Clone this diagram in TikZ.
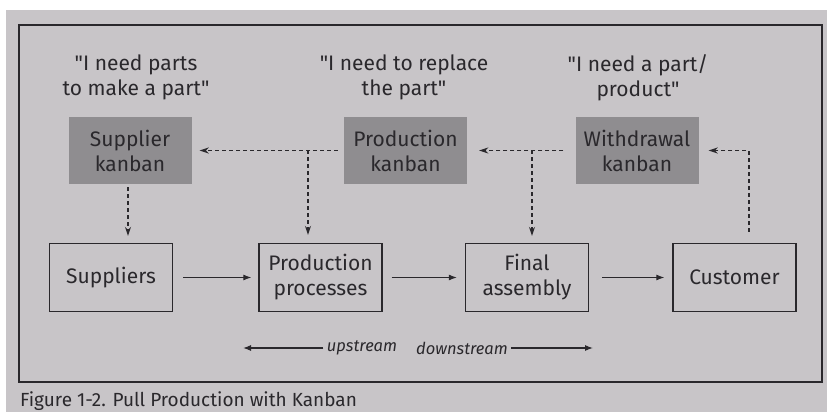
\documentclass[tikz,border=0pt]{standalone}
\usepackage{fontspec}
\setmainfont{Fira Sans}
\usetikzlibrary{arrows.meta}
\definecolor{page}{RGB}{200,197,200}
\definecolor{kb}{RGB}{143,141,144}
\definecolor{ink}{RGB}{42,40,44}
\newcommand{\sq}{\textquotedbl}
\tikzset{
  kanbanbox/.style={fill=kb, minimum width=123, minimum height=67, inner sep=0pt, align=center, text=ink, font=\fontsize{21}{25}\selectfont},
  stagebox/.style={draw=ink, line width=1.3, minimum width=123, minimum height=68, inner sep=0pt, align=center, text=ink, font=\fontsize{21}{25}\selectfont},
  quotelabel/.style={align=center, text=ink, font=\fontsize{21}{25}\selectfont},
  flowarrow/.style={draw=ink, line width=1.1, -{Latex[length=8,width=6]}},
  signalarrow/.style={draw=ink, line width=1.3, dash pattern=on 4pt off 3pt, -{Stealth[length=9,width=6]}},
  dirlabel/.style={text=ink, font=\fontsize{16.5}{19}\selectfont\itshape}
}
\begin{document}
\begin{tikzpicture}[x=1pt,y=1pt]
\useasboundingbox (0,0) rectangle (827,412);
\fill[white] (0,0) rectangle (827,412);
\fill[page] (6,0) rectangle (827,402);
\draw[ink, line width=1.5] (19,30) rectangle (822,387);

% quote labels
\node[quotelabel] (q1) at (136,334.5) {\sq I need parts\\to make a part\sq};
\node[quotelabel] (q2) at (404,334.5) {\sq I need to replace\\the part\sq};
\node[quotelabel] (q3) at (638,334.5) {\sq I need a part/\\product\sq};

% kanban boxes
\node[kanbanbox] (supk) at (130,261.5) {Supplier\\kanban};
\node[kanbanbox] (prodk) at (405.5,261.5) {Production\\kanban};
\node[kanbanbox] (wk) at (637,261.5) {Withdrawal\\kanban};

% stage boxes
\node[stagebox] (sup) at (111,134.5) {Suppliers};
\node[stagebox] (pp) at (320.5,134.5) {Production\\processes};
\node[stagebox] (fa) at (527,134.5) {Final\\assembly};
\node[stagebox] (cust) at (734.5,134.5) {Customer};

% solid flow arrows
\draw[flowarrow, shorten <=10, shorten >=7] (sup.east) -- (pp.west);
\draw[flowarrow, shorten <=9, shorten >=8] (pp.east) -- (fa.west);
\draw[flowarrow, shorten <=13, shorten >=8] (fa.east) -- (cust.west);

% dashed kanban signals
\coordinate (j1) at (308,261.5);
\coordinate (j2) at (532,261.5);
\coordinate (c1) at ([xshift=14.5]cust.north);
\draw[signalarrow, shorten <=6, shorten >=8] (prodk.west) -- (supk.east);
\draw[signalarrow, shorten <=12, shorten >=12] (wk.west) -- (prodk.east);
\draw[signalarrow, shorten >=8] (j1) -- (j1 |- pp.north);
\draw[signalarrow, shorten >=7] (j2) -- (j2 |- fa.north);
\draw[signalarrow, shorten <=3, shorten >=7] ([xshift=-2]supk.south) -- ([xshift=-2]supk.south |- sup.north);
\draw[signalarrow, shorten <=11, shorten >=10] (c1) |- (wk.east);

% upstream / downstream
\node[dirlabel] (up) at (362,64) {upstream};
\node[dirlabel] (down) at (462,64) {downstream};
\coordinate (ua) at (243,64);
\coordinate (da) at (593,64);
\draw[flowarrow] (up.west) -- (ua);
\draw[flowarrow] (down.east) -- (da);

% caption
\node[anchor=base west, inner sep=0pt, text=ink, font=\fontsize{19}{22}\selectfont] (cap) at (20,5.5) {Figure 1-2. Pull Production with Kanban};
\end{tikzpicture}
\end{document}
